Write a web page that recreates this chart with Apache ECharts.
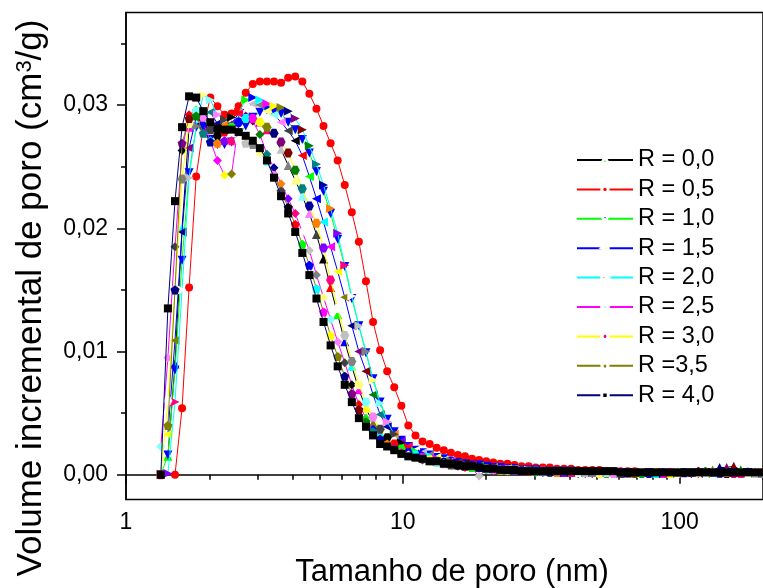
<!DOCTYPE html>
<html><head><meta charset="utf-8">
<script src="https://cdn.jsdelivr.net/npm/echarts@6/dist/echarts.min.js"></script>
<style>html,body{margin:0;padding:0;background:#fff}#c{width:763px;height:588px}</style>
</head><body><div id="c"></div>
<script>
// Pore size grid (nm)
const poreSize = [1.336,1.417,1.503,1.594,1.690,1.793,1.902,2.017,2.139,2.269,
 2.406,2.552,2.707,2.871,3.045,3.229,3.425,3.632,3.853,4.086,
 4.334,4.596,4.875,5.170,5.483,5.816,6.168,6.542,6.938,7.359,
 7.805,8.278,8.779,9.311,9.876,10.47,11.11,11.78,12.50,13.25,
 14.06,14.91,15.81,16.77,17.78,18.86,20.01,21.22,22.50,23.87,
 25.31,26.85,28.47,30.20,32.03,33.97,36.03,38.21,40.53,42.98,
 45.59,48.35,51.28,54.39,57.69,61.18,64.89,68.82,72.99,77.41,
 82.10,87.08,92.36,97.95,103.9,110.2,116.9,123.9,131.5,139.4,
 147.9,156.8,166.3,176.4,187.1,198.4];

const seriesNames = ['R = 0,0','R = 0,5','R = 1,0','R = 1,5','R = 2,0','R = 2,5','R = 3,0','R =3,5','R = 4,0'];

const yR00 = [null,0.0015,0.0090,0.0200,0.0282,0.0296,0.0290,0.0283,0.0280,0.0281,
 0.0284,0.0288,0.0290,0.0290,0.0286,0.0280,0.0273,0.0264,0.0251,0.0239,
 0.0226,0.0212,0.0195,0.0175,0.0152,0.0130,0.0108,0.0088,0.0069,0.0054,
 0.0042,0.0033,0.0027,0.0023,0.0020,0.0017,0.0015,0.0014,0.0012,0.0011,
 0.0010,0.0009,0.0008,0.0008,0.0007,0.0006,0.0006,0.0005,0.0005,0.0004,
 0.0004,0.0004,0.0003,0.0003,0.0003,0.0003,0.0003,0.0002,0.0002,0.0002,
 0.0002,0.0002,0.0002,0.0002,0.0002,0.0002,0.0001,0.0001,0.0002,0.0002,
 0.0001,0.0001,0.0002,0.0002,0.0002,0.0002,0.0003,0.0003,0.0004,0.0006,
 0.0006,0.0007,0.0004,0.0003,0.0002,0.0002];
const yR05 = [null,null,0.0000,0.0054,0.0152,0.0242,0.0282,0.0306,0.0299,0.0292,
 0.0293,0.0299,0.0310,0.0317,0.0319,0.0319,0.0319,0.0318,0.0322,0.0323,
 0.0319,0.0309,0.0297,0.0283,0.0269,0.0255,0.0235,0.0213,0.0189,0.0157,
 0.0124,0.0101,0.0084,0.0071,0.0056,0.0040,0.0032,0.0027,0.0025,0.0022,
 0.0020,0.0018,0.0016,0.0015,0.0013,0.0012,0.0011,0.0010,0.0009,0.0009,
 0.0008,0.0007,0.0007,0.0006,0.0006,0.0006,0.0005,0.0005,0.0005,0.0004,
 0.0004,0.0004,0.0004,0.0003,0.0003,0.0003,0.0003,0.0003,0.0002,0.0002,
 0.0002,0.0002,0.0002,0.0002,0.0002,0.0002,0.0002,0.0002,0.0002,0.0002,
 0.0002,0.0002,0.0002,0.0002,0.0002,0.0002];
const yR10 = [0.0000,0.0016,0.0085,0.0174,0.0245,0.0282,0.0280,0.0272,0.0268,0.0268,
 0.0270,0.0276,0.0283,0.0290,0.0294,0.0296,0.0295,0.0293,0.0286,0.0280,
 0.0272,0.0261,0.0246,0.0230,0.0212,0.0191,0.0169,0.0143,0.0121,0.0099,
 0.0078,0.0059,0.0045,0.0035,0.0028,0.0023,0.0020,0.0018,0.0016,0.0014,
 0.0013,0.0011,0.0010,0.0009,0.0008,0.0008,0.0007,0.0006,0.0006,0.0005,
 0.0005,0.0004,0.0004,0.0004,0.0003,0.0003,0.0003,0.0003,0.0003,0.0002,
 0.0002,0.0002,0.0002,0.0002,0.0002,0.0002,0.0002,0.0001,0.0001,0.0002,
 0.0002,0.0001,0.0001,0.0001,0.0002,0.0002,0.0002,0.0002,0.0002,0.0002,
 0.0002,0.0002,0.0002,0.0002,0.0001,0.0001];
const yR15 = [null,0.0033,0.0109,0.0197,0.0265,0.0290,0.0293,0.0294,0.0285,0.0284,
 0.0285,0.0293,0.0298,0.0301,0.0300,0.0295,0.0292,0.0286,0.0279,0.0271,
 0.0259,0.0242,0.0224,0.0205,0.0185,0.0165,0.0144,0.0121,0.0100,0.0084,
 0.0065,0.0049,0.0039,0.0033,0.0027,0.0023,0.0020,0.0018,0.0016,0.0014,
 0.0012,0.0011,0.0010,0.0009,0.0008,0.0007,0.0007,0.0006,0.0005,0.0005,
 0.0005,0.0004,0.0004,0.0003,0.0003,0.0003,0.0003,0.0002,0.0002,0.0002,
 0.0002,0.0002,0.0002,0.0002,0.0001,0.0001,0.0002,0.0002,0.0002,0.0001,
 0.0001,0.0002,0.0002,0.0002,0.0002,0.0002,0.0001,0.0001,0.0002,0.0002,
 0.0002,0.0002,0.0002,0.0001,0.0001,0.0001];
const yR20 = [0.0000,0.0001,0.0059,0.0150,0.0241,0.0283,0.0308,0.0304,0.0292,0.0288,
 0.0290,0.0294,0.0304,0.0306,0.0304,0.0301,0.0299,0.0298,0.0295,0.0289,
 0.0280,0.0267,0.0252,0.0235,0.0216,0.0196,0.0170,0.0145,0.0121,0.0100,
 0.0077,0.0058,0.0043,0.0033,0.0026,0.0022,0.0019,0.0017,0.0015,0.0013,
 0.0012,0.0011,0.0010,0.0009,0.0008,0.0007,0.0006,0.0006,0.0005,0.0005,
 0.0004,0.0004,0.0004,0.0003,0.0003,0.0003,0.0003,0.0003,0.0002,0.0002,
 0.0002,0.0002,0.0002,0.0002,0.0002,0.0001,0.0001,0.0001,0.0002,0.0002,
 0.0002,0.0001,0.0001,0.0001,0.0001,0.0002,0.0002,0.0002,0.0001,0.0001,
 0.0001,0.0002,0.0002,0.0001,0.0001,0.0001];
const yR25 = [0.0023,0.0095,0.0185,0.0263,0.0292,0.0296,0.0285,0.0271,0.0255,0.0243,
 0.0244,0.0285,0.0291,0.0287,0.0276,0.0260,0.0249,0.0236,0.0224,0.0212,
 0.0197,0.0182,0.0162,0.0144,0.0126,0.0108,0.0091,0.0073,0.0057,0.0046,
 0.0037,0.0031,0.0026,0.0022,0.0019,0.0016,0.0014,0.0012,0.0011,0.0010,
 0.0009,0.0008,0.0007,0.0006,0.0005,-0.0001,0.0004,0.0004,0.0004,0.0003,
 0.0003,0.0003,0.0003,0.0002,0.0002,0.0002,0.0002,0.0002,0.0002,0.0001,
 0.0001,0.0001,0.0002,0.0002,0.0001,0.0001,0.0001,0.0001,0.0001,0.0002,
 0.0002,0.0001,0.0001,0.0001,0.0001,0.0001,0.0001,0.0002,0.0002,0.0001,
 0.0001,0.0001,0.0001,0.0001,0.0001,0.0001];
const yR30 = [0.0000,0.0060,0.0150,0.0240,0.0285,0.0295,0.0290,0.0280,0.0275,0.0278,
 0.0282,0.0286,0.0289,0.0289,0.0286,0.0282,0.0277,0.0270,0.0261,0.0247,
 0.0232,0.0218,0.0204,0.0184,0.0158,0.0135,0.0113,0.0092,0.0073,0.0059,
 0.0047,0.0037,0.0030,0.0025,0.0021,0.0018,0.0016,0.0014,0.0012,0.0011,
 0.0010,0.0009,0.0008,0.0007,0.0006,0.0006,0.0005,0.0005,0.0004,0.0004,
 0.0004,0.0003,0.0003,0.0003,0.0003,0.0002,0.0002,0.0002,0.0002,0.0002,
 0.0002,0.0002,0.0001,0.0001,0.0002,0.0002,0.0002,0.0001,0.0001,0.0001,
 0.0002,0.0002,0.0002,0.0001,0.0001,0.0002,0.0002,0.0002,0.0002,0.0001,
 0.0001,0.0001,0.0002,0.0002,0.0001,0.0001];
const yR35 = [null,0.0040,0.0150,0.0269,0.0289,0.0291,0.0277,0.0270,0.0269,0.0271,
 0.0271,0.0272,0.0269,0.0268,0.0262,0.0254,0.0243,0.0230,0.0217,0.0203,
 0.0187,0.0170,0.0151,0.0132,0.0113,0.0096,0.0080,0.0066,0.0053,0.0043,
 0.0035,0.0029,0.0025,0.0021,0.0018,0.0016,0.0014,0.0013,0.0011,0.0010,
 0.0009,0.0008,0.0008,0.0007,0.0006,0.0006,0.0005,0.0005,0.0004,0.0004,
 0.0004,0.0003,0.0003,0.0003,0.0003,0.0003,0.0002,0.0002,0.0002,0.0002,
 0.0002,0.0002,0.0002,0.0002,0.0001,0.0001,0.0002,0.0002,0.0002,0.0002,
 0.0001,0.0001,0.0001,0.0002,0.0002,0.0002,0.0003,0.0003,0.0002,0.0002,
 0.0002,0.0002,0.0001,0.0001,0.0001,0.0001];
const yR40 = [0.0000,0.0135,0.0222,0.0282,0.0307,0.0306,0.0295,0.0286,0.0281,0.0280,
 0.0280,0.0278,0.0275,0.0271,0.0265,0.0255,0.0241,0.0226,0.0212,0.0197,
 0.0180,0.0162,0.0143,0.0124,0.0105,0.0088,0.0073,0.0059,0.0046,0.0039,
 0.0032,0.0025,0.0023,0.0020,0.0017,0.0015,0.0014,0.0013,0.0011,0.0011,
 0.0009,0.0009,0.0008,0.0007,0.0007,0.0006,0.0005,0.0005,0.0004,0.0004,
 0.0004,0.0003,0.0003,0.0003,0.0003,0.0003,0.0003,0.0003,0.0003,0.0003,
 0.0003,0.0003,0.0003,0.0003,0.0003,0.0002,0.0002,0.0002,0.0002,0.0002,
 0.0002,0.0002,0.0002,0.0002,0.0002,0.0002,0.0002,0.0002,0.0002,0.0002,
 0.0002,0.0002,0.0002,0.0002,0.0002,0.0002];

const xTickLabels = [1, 10, 100];
const xMinorTicks = [2,3,4,5,6,7,8,9,20,30,40,50,60,70,80,90,200];
const yTickLabels = [0, 0.01, 0.02, 0.03];
const yMinorTicks = [0.005, 0.015, 0.025, 0.035];
const xTitle = 'Tamanho de poro (nm)';
const yTitle = 'Volume incremental de poro (cm{sup|3}/g)';

// Origin default colour increment list
const ORIGIN = ['#000000','#FF0000','#00FF00','#0000FF','#00FFFF','#FF00FF','#FFFF00','#808000',
 '#000080','#800080','#800000','#008000','#008080','#0000A0','#FF8000','#8000FF',
 '#FF0080','#FFFFFF','#C0C0C0','#808080','#FFFF80','#80FFFF','#FF80FF','#404040'];
const DIAMOND = 'path://M0,-1L1,0L0,1L-1,0Z';
const HEX = 'path://M1,0L0.5,0.866L-0.5,0.866L-1,0L-0.5,-0.866L0.5,-0.866Z';
const PENT = 'path://M0,-1L0.951,-0.309L0.588,0.809L-0.588,0.809L-0.951,-0.309Z';

const styles = [
 {line:'#000000', symbol:'triangle', rotate:0, size:9, start:3},
 {line:'#FF0000', symbol:'circle', rotate:0, size:8, color:'#FF0000'},
 {line:'#00FF00', symbol:'triangle', rotate:180, size:9, color:'#0000FF'},
 {line:'#0000FF', symbol:'triangle', rotate:90, size:9, start:7},
 {line:'#00FFFF', symbol:'triangle', rotate:-90, size:9, start:15},
 {line:'#FF00FF', symbol:DIAMOND, rotate:0, size:9, start:22},
 {line:'#FFFF00', symbol:HEX, rotate:0, size:9, start:17},
 {line:'#808000', symbol:PENT, rotate:0, size:9, start:8},
 {line:'#000080', symbol:'rect', rotate:0, size:8, color:'#000000'}
];

const allY = [yR00, yR05, yR10, yR15, yR20, yR25, yR30, yR35, yR40];
const FONT = 'Liberation Sans, Arial, sans-serif';

const series = allY.map((ys, s) => {
  const st = styles[s];
  const data = [];
  let k = 0;
  ys.forEach((y, i) => {
    if (y === null) return;
    const color = st.start ? ORIGIN[(st.start - 1 + k) % 24] : st.color;
    data.push({value: [poreSize[i], y], itemStyle: {color: color}});
    k++;
  });
  return {
    type: 'line', name: seriesNames[s], data: data,
    xAxisIndex: 0, yAxisIndex: 0,
    symbol: st.symbol, symbolSize: st.size, symbolRotate: st.rotate,
    showSymbol: true, showAllSymbol: true,
    lineStyle: {color: st.line, width: 1},
    itemStyle: {color: st.start ? ORIGIN[st.start - 1] : st.color},
    emphasis: {disabled: true},
    z: 2 + s
  };
});

const chart = echarts.init(document.getElementById('c'), null, {renderer: 'canvas'});
chart.setOption({
  animation: false,
  backgroundColor: '#fff',
  grid: {left: 126, top: 12.5, right: -2.7, bottom: 88.5, show: true, borderColor: '#000', borderWidth: 1.5, backgroundColor: 'transparent'},
  legend: {
    data: seriesNames, orient: 'vertical', left: 576, top: 148, padding: 0,
    itemWidth: 56, itemHeight: 8, itemGap: 5.4,
    textStyle: {fontSize: 23.5, fontFamily: FONT, color: '#000', lineHeight: 24},
    itemStyle: {borderColor: '#fff', borderWidth: 3}
  },
  graphic: [
    {type: 'text', x: 452, y: 572, z: 10,
     style: {text: xTitle, font: '31px ' + FONT, fill: '#000', align: 'center', verticalAlign: 'middle'}},
    {type: 'text', x: 31, y: 298, rotation: Math.PI / 2, z: 10,
     style: {text: yTitle, fontSize: 35, fontFamily: FONT, fill: '#000', align: 'center', verticalAlign: 'middle',
       rich: {sup: {fontSize: 22, fontFamily: FONT, fill: '#000', verticalAlign: 'top'}}}}
  ],
  xAxis: [
    {type: 'log', logBase: 10, min: 1, max: 200, position: 'bottom',
     axisLine: {show: true, lineStyle: {color: '#000', width: 1.5}},
     axisTick: {show: true, inside: false, length: 9, customValues: xTickLabels, lineStyle: {color: '#000', width: 1.5}},
     axisLabel: {show: true, customValues: xTickLabels, fontSize: 23, fontFamily: FONT, color: '#000', margin: 12,
       formatter: v => String(Math.round(v))},
     splitLine: {show: false}, minorTick: {show: false}},
    {type: 'log', logBase: 10, min: 1, max: 200, position: 'bottom', gridIndex: 0,
     axisLine: {show: false},
     axisTick: {show: true, inside: false, length: 5, customValues: xMinorTicks, lineStyle: {color: '#000', width: 1.5}},
     axisLabel: {show: false}, splitLine: {show: false}}
  ],
  yAxis: [
    {type: 'value', min: -0.002, max: 0.0375, position: 'left',
     axisLine: {show: true, lineStyle: {color: '#000', width: 1.5}},
     axisTick: {show: true, inside: false, length: 9, customValues: yTickLabels, lineStyle: {color: '#000', width: 1.5}},
     axisLabel: {show: true, customValues: yTickLabels, fontSize: 23, fontFamily: FONT, color: '#000', margin: 18,
       formatter: v => v.toFixed(2).replace('.', ',')},
     splitLine: {show: false}},
    {type: 'value', min: -0.002, max: 0.0375, position: 'left', gridIndex: 0,
     axisLine: {show: false},
     axisTick: {show: true, inside: false, length: 5, customValues: yMinorTicks, lineStyle: {color: '#000', width: 1.5}},
     axisLabel: {show: false}, splitLine: {show: false}}
  ],
  series: series
});
</script></body></html>
